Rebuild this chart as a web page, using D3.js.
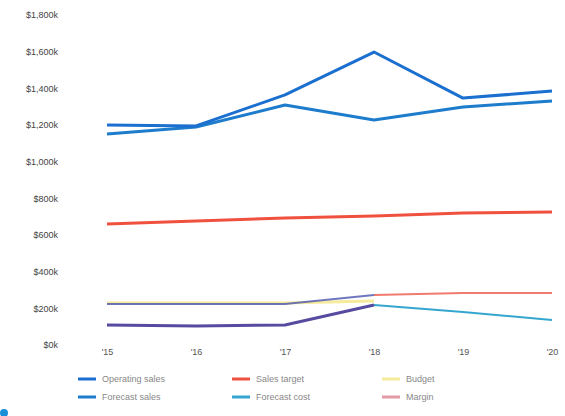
<!DOCTYPE html>
<html>
<head>
<meta charset="utf-8">
<script src="https://cdn.jsdelivr.net/npm/d3@7"></script>
<style>
  body { margin: 0; background: #fff; }
  svg { display: block; font-family: "Liberation Sans", Arial, sans-serif; }
</style>
</head>
<body>
<svg id="chart" width="565" height="416"></svg>
<script>
// Periods along the x axis
const periods = ["'15", "'16", "'17", "'18", "'19", "'20"];
// Y-axis tick values (thousands of dollars)
const yTicks = [0, 200, 400, 600, 800, 1000, 1200, 1400, 1600, 1800];

// Series values (thousands of dollars); null = no value for that period
const actualSales   = [1200, 1195, 1364, 1598, 1347, 1385];
const forecastSales = [1151, 1189, 1309, 1227, 1298, 1331];
const salesTarget   = [660, 676, 693, 704, 720, 725];
const budget        = [229, 229, 229, 240, null, null];
const marginHistory = [224, 224, 224, 273, null, null];
const projMargin    = [null, null, null, 273, 284, 284];
const costHistory   = [109, 104, 109, 218, null, null];
const forecastCost  = [null, null, null, 218, 180, 136];

const legendNames  = ["Operating sales", "Sales target", "Budget", "Forecast sales", "Forecast cost", "Margin"];
const legendColors = ["#1a6fcf", "#f0503e", "#f6ea9c", "#1d7ccb", "#35a6cf", "#e39aa6"];

const svg = d3.select("#chart");
const x = d3.scalePoint().domain(periods).range([107, 552]);
const y = d3.scaleLinear().domain([0, 1800]).range([345, 15]);

// Y axis labels only (no line, no ticks)
const yAxis = d3.axisLeft(y).tickValues(yTicks).tickSize(0).tickPadding(0)
  .tickFormat(d => "$" + d3.format(",")(d) + "k");
svg.append("g").attr("transform", "translate(58,0)").call(yAxis)
  .call(g => g.select(".domain").remove())
  .call(g => g.selectAll("text").attr("fill", "#444").attr("font-size", 9));

// X axis labels
const xAxis = d3.axisBottom(x).tickSize(0).tickPadding(0);
svg.append("g").attr("transform", "translate(0,349)").call(xAxis)
  .call(g => g.select(".domain").remove())
  .call(g => g.selectAll("text").attr("fill", "#555").attr("font-size", 9));

const line = d3.line().defined(d => d != null)
  .x((d, i) => x(periods[i])).y(d => y(d));

function drawLine(values, color, width, opacity) {
  svg.append("path").datum(values)
    .attr("fill", "none").attr("stroke", color)
    .attr("stroke-width", width).attr("stroke-opacity", opacity)
    .attr("stroke-linejoin", "round")
    .attr("d", line);
}

drawLine(budget, legendColors[2], 3, 1);
drawLine(projMargin, "#f07a6e", 2, 1);
drawLine(marginHistory, "#4a55b0", 2, 0.8);
drawLine(forecastCost, legendColors[4], 2, 1);
drawLine(costHistory, "#564ba0", 3, 1);
drawLine(salesTarget, legendColors[1], 3, 1);
drawLine(forecastSales, legendColors[3], 3, 1);
drawLine(actualSales, legendColors[0], 3, 1);

// Legend: three columns, two rows
const colX = [78, 232, 382];
const rowY = [379, 397];
const legend = svg.append("g");
legendNames.forEach((name, i) => {
  const cx = colX[i % 3], cy = rowY[Math.floor(i / 3)];
  legend.append("line").attr("x1", cx).attr("x2", cx + 18).attr("y1", cy).attr("y2", cy)
    .attr("stroke", legendColors[i]).attr("stroke-width", 3);
  legend.append("text").attr("x", cx + 24).attr("y", cy).attr("dy", "0.35em")
    .attr("font-size", 9).attr("fill", "#888").text(name);
});

// Small info marker in the bottom-left corner
svg.append("circle").attr("cx", 4).attr("cy", 413).attr("r", 4).attr("fill", "#1a8fd8");
</script>
</body>
</html>
